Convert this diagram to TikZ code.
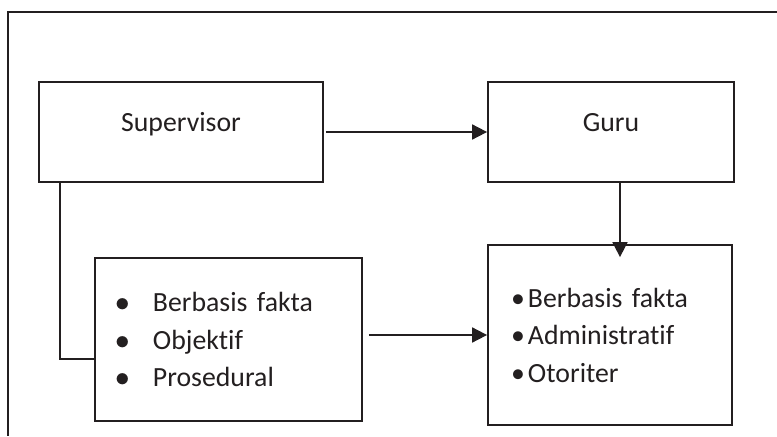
\documentclass[tikz,border=0pt]{standalone}
\usepackage{fontspec}
\setmainfont{Carlito}[Ligatures=NoCommon]
\usepackage{tikz}
\usetikzlibrary{positioning, arrows.meta}

\definecolor{garis}{HTML}{231F20}

\tikzset{
    judul/.style={draw=garis, rectangle, minimum height=3cm, text height=0.6cm, text depth=0.66cm},
    daftar/.style={draw=garis, rectangle, align=left, inner ysep=0pt}
}

\begin{document}
\begin{tikzpicture}[x=0.03cm, y=0.03cm, line width=1.5pt, draw=garis, text=garis, >={Triangle[length=0.45cm, width=0.45cm]}, font=\fontsize{23.7}{32}\selectfont]
    \useasboundingbox (0,0) rectangle (777,436);
    \draw (777,424) -- (8,424) -- (8,0);
    \node[judul, minimum width=8.52cm] (sup) at (181,304) {Supervisor};
    \node[judul, minimum width=7.38cm] (guru) at (611,304) {Guru};
    \node[daftar, text width=6.75cm, inner xsep=0.63cm, minimum height=4.89cm] (ciri1) at (228.5,96.5)
        {\makebox[1.11cm][l]{$\bullet$}Berbasis fakta\\ \makebox[1.11cm][l]{$\bullet$}Objektif\\ \makebox[1.11cm][l]{$\bullet$}Prosedural};
    \node[daftar, text width=5.94cm, inner xsep=0.69cm, minimum height=5.4cm] (ciri2) at (610,101)
        {\makebox[0.51cm][l]{\textbullet}Berbasis fakta\\ \makebox[0.51cm][l]{\textbullet}Administratif\\ \makebox[0.51cm][l]{\textbullet}Otoriter};
    \draw[->] ([xshift=0.06cm]sup.east) -- (guru.west);
    \draw[->] ([xshift=0.27cm]guru.south) -- ([xshift=0.27cm, yshift=-0.39cm]guru.south |- ciri2.north);
    \draw ([xshift=0.66cm]sup.south west) |- ([yshift=-0.585cm]ciri1.west);
    \draw[->] ([xshift=0.18cm, yshift=0.135cm]ciri1.east) -- ([yshift=0.135cm]ciri1.east -| ciri2.west);
\end{tikzpicture}
\end{document}
